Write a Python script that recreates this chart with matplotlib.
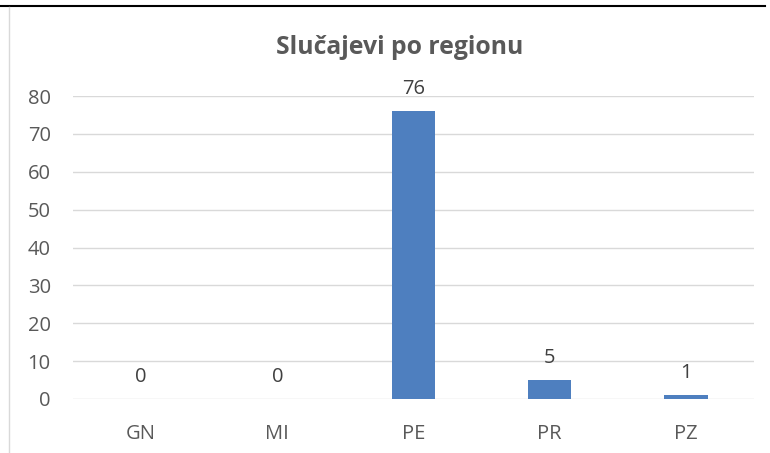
import matplotlib
matplotlib.use("Agg")
import matplotlib.pyplot as plt
from matplotlib.lines import Line2D

categories = ["GN", "MI", "PE", "PR", "PZ"]
values = [0, 0, 76, 5, 1]
yticks = [0, 10, 20, 30, 40, 50, 60, 70, 80]
title = "Slučajevi po regionu"

plt.rcParams['font.family'] = ['Open Sans', 'DejaVu Sans']
txt = "#595959"

fig = plt.figure(figsize=(7.7, 4.53), dpi=100)
ax = fig.add_axes([73/770, 54/453, (754-73)/770, (399-96)/453])
x = list(range(len(categories)))
bars = ax.bar(x, values, width=0.32, color="#4E7FBF", zorder=3)
ax.set_xlim(-0.5, len(categories) - 0.5)
ax.set_ylim(0, 80)
ax.set_yticks(yticks)
ax.set_xticks(x)
ax.set_xticklabels(categories)
ax.grid(axis='y', color="#D9D9D9", linewidth=1.0, zorder=0)
for s in ax.spines.values():
    s.set_visible(False)
ax.tick_params(axis='both', length=0, labelsize=14.5, colors=txt)
ax.tick_params(axis='y', pad=16)
ax.tick_params(axis='x', pad=18)
for b, v in zip(bars, values):
    ax.annotate(str(v), (b.get_x() + b.get_width()/2, v), xytext=(0, 9),
                textcoords='offset points', ha='center', va='bottom',
                fontsize=14.5, color="#404040")
fig.text(400/770, 1 - 47/453, title, ha='center', va='center',
         fontsize=17.8, fontweight='bold', color=txt)
fig.add_artist(Line2D([0, 765/770], [1 - 6/453]*2, color='black', lw=1.5, transform=fig.transFigure))
fig.add_artist(Line2D([9/770]*2, [0, 1 - 7/453], color='#D9D9D9', lw=1.0, transform=fig.transFigure))
fig.savefig("out.png", dpi=100, facecolor='white')
